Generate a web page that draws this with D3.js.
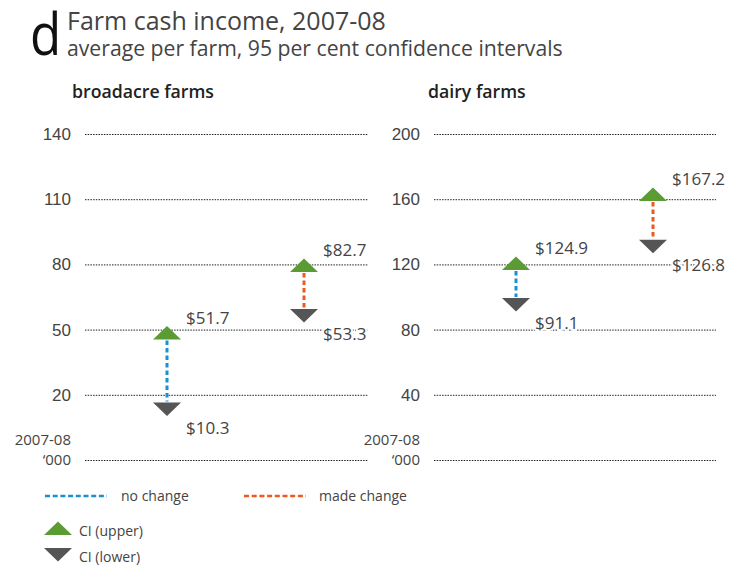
<!DOCTYPE html>
<html>
<head>
<meta charset="utf-8">
<script src="https://cdn.jsdelivr.net/npm/d3@7"></script>
<style>
  html, body { margin: 0; padding: 0; background: #fff; }
  svg { display: block; font-family: "Open Sans", "Noto Sans", sans-serif; }
  .grid line { stroke: #222; stroke-width: 1; stroke-dasharray: 1.5 1.2; }
  .grid path { display: none; }
  .grid text { fill: #444; font-size: 17px; }
  .value { paint-order: stroke; stroke: #fff; stroke-width: 4px; stroke-linejoin: round; }
</style>
</head>
<body>
<svg id="chart" width="730" height="566"></svg>
<script>
// Farm cash income, 2007-08: 95% confidence interval bounds ($'000 per farm)
const groups = ["no change", "made change"];
const broadacreUpper = [51.7, 82.7];
const broadacreLower = [10.3, 53.3];
const dairyUpper = [124.9, 167.2];
const dairyLower = [91.1, 126.8];
const broadacreTicks = [140, 110, 80, 50, 20];
const dairyTicks = [200, 160, 120, 80, 40];
const broadacreDomain = [-10, 140];
const dairyDomain = [0, 200];
const groupColors = ["#1b8fd2", "#ee5a1e"];
const upperColor = "#5a9b33";
const lowerColor = "#555555";
const textColor = "#444";

const svg = d3.select("#chart");

// Heading
svg.append("text").attr("transform", "translate(30,55) scale(0.88,1)")
  .attr("font-size", 58).attr("fill", "#111").text("d");
svg.append("text").attr("x", 67).attr("y", 30)
  .attr("font-size", 25).attr("fill", textColor)
  .text("Farm cash income, 2007-08");
svg.append("text").attr("x", 67).attr("y", 56)
  .attr("font-size", 21.2).attr("fill", textColor)
  .text("average per farm, 95 per cent confidence intervals");

const panels = [
  { title: "broadacre farms", titleX: 72, left: 85, right: 368,
    domain: broadacreDomain, ticks: broadacreTicks, upper: broadacreUpper, lower: broadacreLower },
  { title: "dairy farms", titleX: 428, left: 434, right: 716,
    domain: dairyDomain, ticks: dairyTicks, upper: dairyUpper, lower: dairyLower }
];

const triW = 28, triH = 13.5;
const upTri = `M0,0 L${triW / 2},${triH} L${-triW / 2},${triH} Z`;    // apex at origin, pointing up
const downTri = `M0,0 L${triW / 2},${-triH} L${-triW / 2},${-triH} Z`; // apex at origin, pointing down

panels.forEach(p => {
  const y = d3.scaleLinear().domain(p.domain).range([460, 134]);
  const x = d3.scalePoint().domain(groups).range([p.left + 82, p.left + 219]);

  svg.append("text").attr("x", p.titleX).attr("y", 98)
    .attr("font-size", 17.7).attr("font-weight", 600).attr("fill", "#222")
    .text(p.title);

  const axis = d3.axisLeft(y)
    .tickValues([...p.ticks, p.domain[0]])
    .tickSize(-(p.right - p.left))
    .tickPadding(14)
    .tickFormat(d => d === p.domain[0] ? "" : d);
  svg.append("g").attr("class", "grid")
    .attr("transform", `translate(${p.left},0)`)
    .call(axis);

  // baseline unit label
  svg.append("text").attr("text-anchor", "end")
    .attr("x", p.left - 14).attr("y", y(p.domain[0]) - 20.5).attr("dy", "0.35em")
    .attr("font-size", 15).attr("fill", textColor).text("2007-08");
  svg.append("text").attr("text-anchor", "end")
    .attr("x", p.left - 14).attr("y", y(p.domain[0])).attr("dy", "0.35em")
    .attr("font-size", 15).attr("fill", textColor).text("‘000");

  groups.forEach((g, i) => {
    const cx = x(g);
    const yu = y(p.upper[i]), yl = y(p.lower[i]);
    svg.append("line")
      .attr("x1", cx).attr("x2", cx)
      .attr("y1", yu + triH + 1).attr("y2", yl - triH - 1)
      .attr("stroke", groupColors[i]).attr("stroke-width", 3)
      .attr("stroke-dasharray", "4.5 3");
    svg.append("path").attr("d", upTri)
      .attr("transform", `translate(${cx},${yu})`).attr("fill", upperColor);
    svg.append("path").attr("d", downTri)
      .attr("transform", `translate(${cx},${yl})`).attr("fill", lowerColor);
    svg.append("text").attr("class", "value").attr("x", cx + 19).attr("y", yu - 8)
      .attr("dy", "0.35em").attr("font-size", 17).attr("fill", textColor)
      .text(`$${p.upper[i].toFixed(1)}`);
    svg.append("text").attr("class", "value").attr("x", cx + 19).attr("y", yl + 12)
      .attr("dy", "0.35em").attr("font-size", 17).attr("fill", textColor)
      .text(`$${p.lower[i].toFixed(1)}`);
  });
});

// Legend
const legendLines = [{ x: 45, tx: 121 }, { x: 244, tx: 319 }];
groups.forEach((g, i) => {
  svg.append("line")
    .attr("x1", legendLines[i].x).attr("x2", legendLines[i].x + 62)
    .attr("y1", 496).attr("y2", 496)
    .attr("stroke", groupColors[i]).attr("stroke-width", 2.5)
    .attr("stroke-dasharray", "5 2.7");
  svg.append("text").attr("x", legendLines[i].tx).attr("y", 496)
    .attr("dy", "0.35em").attr("font-size", 14).attr("fill", textColor).text(g);
});
svg.append("path").attr("d", upTri).attr("transform", "translate(58,521.5)").attr("fill", upperColor);
svg.append("text").attr("x", 79).attr("y", 531).attr("dy", "0.35em")
  .attr("font-size", 14).attr("fill", textColor).text("CI (upper)");
svg.append("path").attr("d", downTri).attr("transform", "translate(58,561.5)").attr("fill", lowerColor);
svg.append("text").attr("x", 79).attr("y", 557).attr("dy", "0.35em")
  .attr("font-size", 14).attr("fill", textColor).text("CI (lower)");
</script>
</body>
</html>
